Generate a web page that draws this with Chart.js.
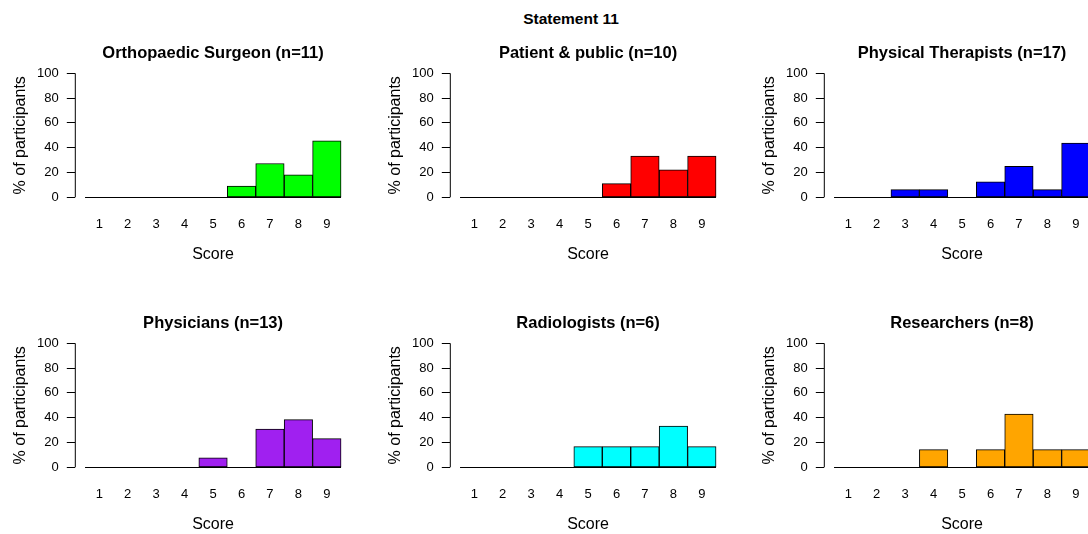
<!DOCTYPE html>
<html>
<head>
<meta charset="utf-8">
<title>Statement 11</title>
<script src="https://cdn.jsdelivr.net/npm/chart.js@4.4.1/dist/chart.umd.min.js"></script>
<style>
  html, body {
    margin: 0;
    padding: 0;
    background: #fff;
    overflow: hidden;
    width: 1088px;
    height: 534px;
  }
  .page-title {
    position: absolute;
    left: 471px;
    width: 200px;
    top: 9.5px;
    text-align: center;
    font-family: 'Liberation Sans', Arial, sans-serif;
    font-weight: bold;
    font-size: 15.5px;
    color: #000;
  }
  .panel {
    position: absolute;
    width: 375px;
    height: 240px;
  }
</style>
</head>
<body>
<div class="page-title">Statement 11</div>
<div class="panel" style="left:0px;top:30px"><canvas id="chart0"></canvas></div>
<div class="panel" style="left:374.7px;top:30px"><canvas id="chart1"></canvas></div>
<div class="panel" style="left:749.4px;top:30px"><canvas id="chart2"></canvas></div>
<div class="panel" style="left:0px;top:300.4px"><canvas id="chart3"></canvas></div>
<div class="panel" style="left:374.7px;top:300.4px"><canvas id="chart4"></canvas></div>
<div class="panel" style="left:749.4px;top:300.4px"><canvas id="chart5"></canvas></div>

<script>
// Scores on the x axis and y axis tick values
const scores = [1, 2, 3, 4, 5, 6, 7, 8, 9];
const yTicks = [0, 20, 40, 60, 80, 100];

// Panel titles
const groupTitles = [
  'Orthopaedic Surgeon (n=11)',
  'Patient & public (n=10)',
  'Physical Therapists (n=17)',
  'Physicians (n=13)',
  'Radiologists (n=6)',
  'Researchers (n=8)'
];

// % of participants per score
const orthopaedicSurgeon = [0, 0, 0, 0, 0, 9.09, 27.27, 18.18, 45.45];
const patientPublic = [0, 0, 0, 0, 0, 11.11, 33.33, 22.22, 33.33];
const physicalTherapists = [0, 0, 6.25, 6.25, 0, 12.5, 25, 6.25, 43.75];
const physicians = [0, 0, 0, 0, 7.69, 0, 30.77, 38.46, 23.08];
const radiologists = [0, 0, 0, 0, 16.67, 16.67, 16.67, 33.33, 16.67];
const researchers = [0, 0, 0, 14.29, 0, 14.29, 42.86, 14.29, 14.29];

const groupValues = [orthopaedicSurgeon, patientPublic, physicalTherapists, physicians, radiologists, researchers];
const groupColors = ['#00FF00', '#FF0000', '#0000FF', '#A020F0', '#00FFFF', '#FFA500'];

const FONT = "'Liberation Sans', Arial, sans-serif";

// Draws the R-style axis line (0 to 100 only) and the histogram baseline,
// and centres the panel title over the plot region like R does
const rAxesPlugin = {
  id: 'rAxes',
  afterLayout(chart) {
    if (chart.titleBlock) {
      chart.titleBlock.left = chart.chartArea.left;
      chart.titleBlock.right = chart.chartArea.right;
    }
  },
  afterDatasetsDraw(chart) {
    const ctx = chart.ctx;
    const x = chart.scales.x;
    const y = chart.scales.y;
    const y0 = y.getPixelForValue(yTicks[0]);
    const y1 = y.getPixelForValue(yTicks[yTicks.length - 1]);
    ctx.save();
    ctx.strokeStyle = '#000';
    ctx.lineWidth = 1;
    // y axis line
    ctx.beginPath();
    ctx.moveTo(x.left + 0.5, y0);
    ctx.lineTo(x.left + 0.5, y1);
    ctx.stroke();
    // baseline under the bins
    ctx.beginPath();
    ctx.moveTo(x.getPixelForValue(scores[0] - 0.5), Math.round(y0) + 0.5);
    ctx.lineTo(x.getPixelForValue(scores[scores.length - 1] + 0.5), Math.round(y0) + 0.5);
    ctx.stroke();
    ctx.restore();
  }
};

function makeHistogram(index) {
  const ctx = document.getElementById('chart' + index).getContext('2d');
  const values = groupValues[index];
  return new Chart(ctx, {
    type: 'bar',
    data: {
      datasets: [{
        data: scores.map((s, i) => ({ x: s, y: values[i] })),
        backgroundColor: groupColors[index],
        borderColor: '#000',
        borderWidth: 1,
        borderSkipped: false,
        barPercentage: 1,
        categoryPercentage: 1
      }]
    },
    options: {
      responsive: true,
      maintainAspectRatio: false,
      animation: false,
      layout: {
        padding: { left: 0, right: 23.7, top: 0, bottom: 0 }
      },
      plugins: {
        legend: { display: false },
        tooltip: { enabled: false },
        title: {
          display: true,
          text: groupTitles[index],
          color: '#000',
          font: { family: FONT, size: 16.5, weight: 'bold' },
          padding: { top: 13.6, bottom: 4.9 }
        }
      },
      scales: {
        x: {
          type: 'linear',
          offset: false,
          min: 0.14,
          max: 9.86,
          grid: { display: false, drawTicks: false },
          border: { display: false },
          afterBuildTicks: function(scale) {
            scale.ticks = scores.map(v => ({ value: v }));
          },
          afterFit: function(scale) {
            scale.height = 67.7;
          },
          ticks: {
            color: '#000',
            padding: 14,
            maxRotation: 0,
            font: { family: FONT, size: 13 }
          },
          title: {
            display: true,
            text: 'Score',
            color: '#000',
            font: { family: FONT, size: 16 },
            padding: { top: 0, bottom: 6.2 }
          }
        },
        y: {
          min: -4,
          max: 104,
          grid: {
            display: true,
            drawOnChartArea: false,
            drawTicks: true,
            tickLength: 8,
            color: '#000'
          },
          border: { display: false },
          afterBuildTicks: function(scale) {
            scale.ticks = yTicks.map(v => ({ value: v }));
          },
          afterFit: function(scale) {
            scale.width = 74.8;
          },
          ticks: {
            color: '#000',
            padding: 8,
            font: { family: FONT, size: 13 }
          },
          title: {
            display: true,
            text: '% of participants',
            color: '#000',
            font: { family: FONT, size: 16 },
            padding: { top: 10.9, bottom: 0 }
          }
        }
      }
    },
    plugins: [rAxesPlugin]
  });
}

document.addEventListener('DOMContentLoaded', function() {
  for (let i = 0; i < groupTitles.length; i++) {
    makeHistogram(i);
  }
});
</script>
</body>
</html>
